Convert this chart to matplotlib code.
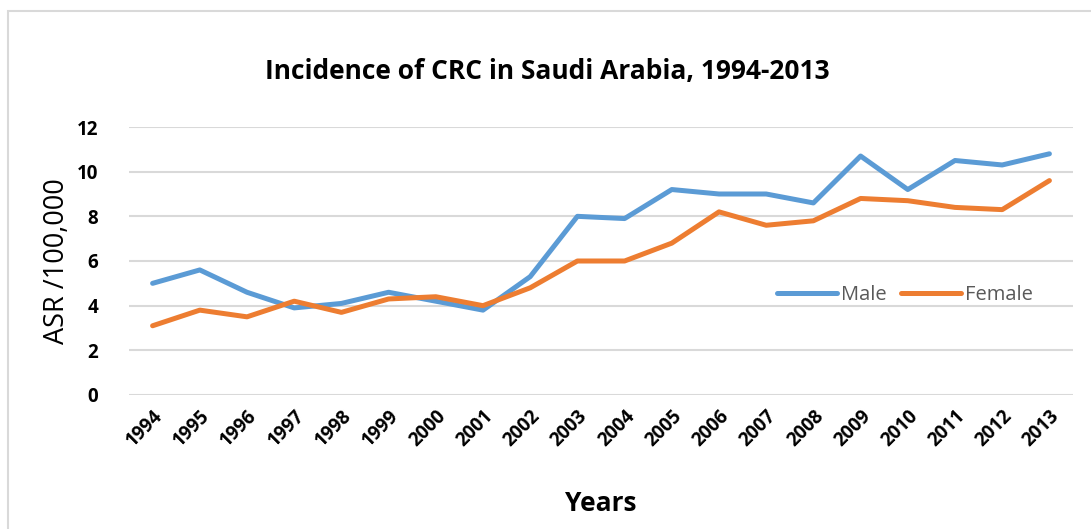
import numpy as np
import matplotlib.pyplot as plt
from matplotlib.patches import Rectangle

# Datos
years = [str(y) for y in range(1994, 2014)]
male = [5.0, 5.6, 4.6, 3.9, 4.1, 4.6, 4.2, 3.8, 5.3, 8.0,
        7.9, 9.2, 9.0, 9.0, 8.6, 10.7, 9.2, 10.5, 10.3, 10.8]
female = [3.1, 3.8, 3.5, 4.2, 3.7, 4.3, 4.4, 4.0, 4.8, 6.0,
          6.0, 6.8, 8.2, 7.6, 7.8, 8.8, 8.7, 8.4, 8.3, 9.6]
yticks = [0, 2, 4, 6, 8, 10, 12]

plt.rcParams['font.family'] = ['Open Sans', 'DejaVu Sans']

W, H = 1091, 529
fig = plt.figure(figsize=(W / 100, H / 100), dpi=100)
ax = fig.add_axes([129 / W, 1 - 395 / H, (1073 - 129) / W, (395 - 127) / H])

# Marco exterior del gráfico
fig.patches.append(Rectangle((8 / W, -0.1), 1.2, 1 - 11 / H + 0.1,
                             transform=fig.transFigure, fill=False,
                             edgecolor='#d9d9d9', linewidth=1.5))

x = np.arange(len(years))
ax.plot(x, male, color='#5b9bd5', linewidth=3.6, label='Male',
        solid_capstyle='round', solid_joinstyle='round')
ax.plot(x, female, color='#ed7d31', linewidth=3.6, label='Female',
        solid_capstyle='round', solid_joinstyle='round')

ax.set_xlim(-0.5, len(years) - 0.5)
ax.set_ylim(0, 12)
ax.set_yticks(yticks)
ax.set_yticklabels([str(t) for t in yticks], fontsize=13.5, fontweight='bold')
ax.set_xticks(x)
ax.set_xticklabels(years, rotation=45, ha='right', rotation_mode='anchor',
                   fontsize=13.5, fontweight='bold')
ax.tick_params(length=0, pad=8)
ax.tick_params(axis='y', pad=22)
ax.grid(axis='y', color='#d9d9d9', linewidth=1.5)
ax.set_axisbelow(True)
for s in ax.spines.values():
    s.set_visible(False)

ax.set_ylabel('ASR /100,000', fontsize=19.5, labelpad=4)
ax.set_xlabel('Years', fontsize=19, fontweight='bold', labelpad=28)
fig.text(547 / W, 1 - 72 / H, 'Incidence of CRC in Saudi Arabia, 1994-2013',
         ha='center', va='center', fontsize=19, fontweight='bold')

leg = ax.legend(loc='center', bbox_to_anchor=((905 - 129) / (1073 - 129), (395 - 295) / (395 - 127)),
                ncol=2, frameon=False, fontsize=14.5, handlelength=3.0,
                columnspacing=0.7, handletextpad=0.2)
for t in leg.get_texts():
    t.set_color('#595959')

fig.savefig('out.png', dpi=100)
